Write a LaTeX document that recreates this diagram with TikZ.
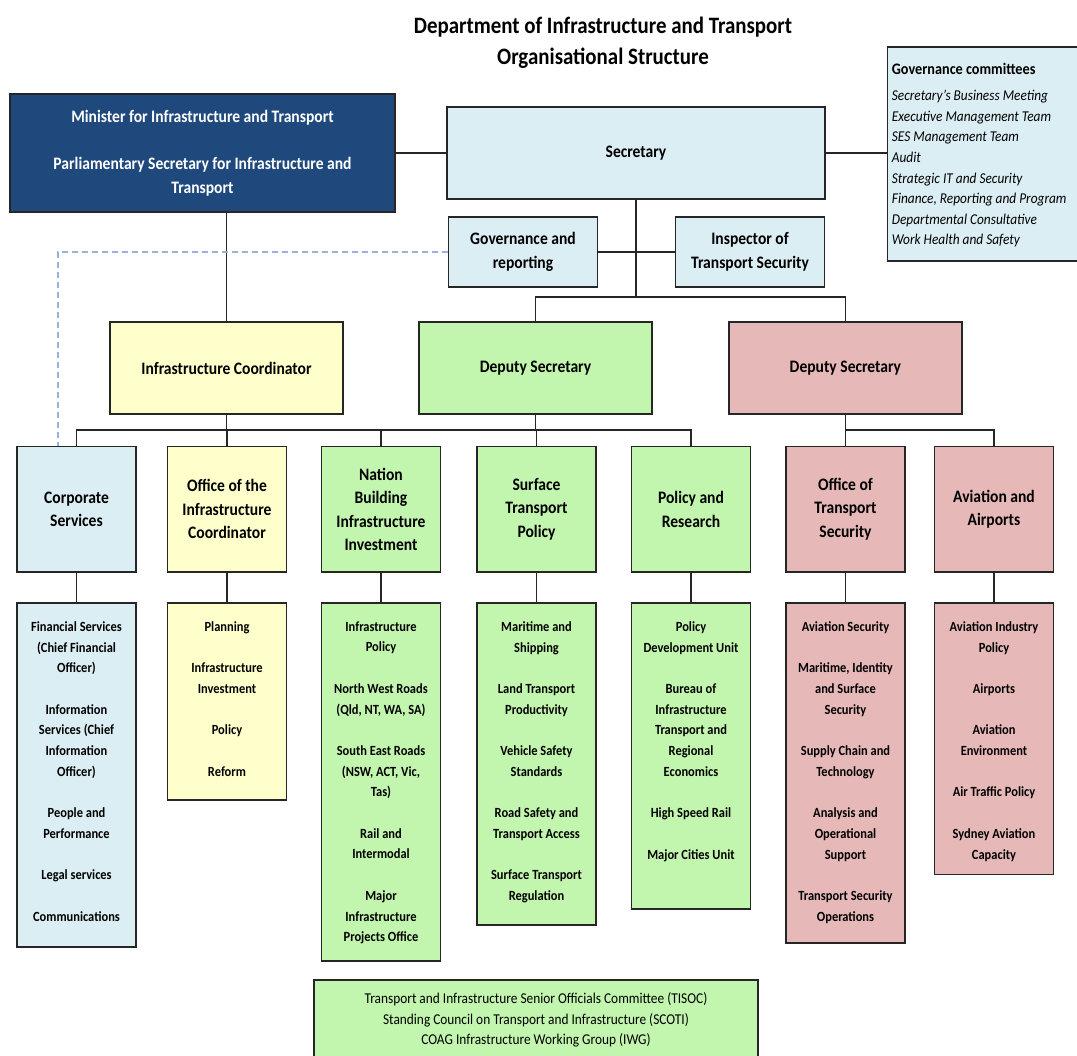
\documentclass[tikz,border=0pt]{standalone}
\usepackage{fontspec}
\setmainfont{Carlito}[FakeStretch=0.89]
\usetikzlibrary{positioning}

\definecolor{deptnavy}{RGB}{31,73,125}
\definecolor{paleblue}{RGB}{219,238,244}
\definecolor{paleyellow}{RGB}{255,255,204}
\definecolor{palegreen}{RGB}{194,245,174}
\definecolor{palered}{RGB}{230,184,183}
\definecolor{dashblue}{RGB}{149,179,215}
\definecolor{edgegrey}{RGB}{38,38,38}

\tikzset{
  box/.style={draw=edgegrey, line width=1.6pt, inner sep=0pt, align=center,
    font=\fontsize{17.5}{23.5}\selectfont\bfseries},
  unitbox/.style={box, minimum width=119pt, minimum height=125pt},
  headbox/.style={box, minimum width=233pt, minimum height=92pt},
  listbox/.style={draw=edgegrey, line width=1.6pt, minimum width=119pt, anchor=north},
  listtxt/.style={inner sep=0pt, align=center, font=\fontsize{14}{20.7}\selectfont\bfseries},
  link/.style={draw=edgegrey, line width=1.6pt},
  dashlink/.style={draw=dashblue, line width=1.6pt, dash pattern=on 6pt off 4pt}
}

\begin{document}
\begin{tikzpicture}[x=1pt,y=-1pt]
  \useasboundingbox (0,0) rectangle (1077,1056);
  \clip (0,0) rectangle (1077,1056);

  \node[inner sep=0pt, align=center, font=\fontsize{23.5}{31}\selectfont\bfseries] (title) at (603,42.5)
    {Department of Infrastructure and Transport\\Organisational Structure};

  % top level
  \node[box, fill=deptnavy, text=white, minimum width=385pt, minimum height=118pt] (minister) at (202.5,153)
    {Minister for Infrastructure and Transport\\[23.5pt]Parliamentary Secretary for Infrastructure and\\Transport};
  \node[box, fill=paleblue, minimum width=378pt, minimum height=92pt] (secretary) at (636,153) {Secretary};
  \node[box, fill=paleblue, minimum width=190pt, minimum height=214pt] (govcomm) at (982.5,154) {};
  \node[inner sep=0pt, anchor=north west, align=left, font=\fontsize{15}{20.6}\selectfont\itshape]
    (govlist) at ([xshift=5pt,yshift=-17pt]govcomm.north west)
    {{\upshape\bfseries\fontsize{16}{20.6}\selectfont Governance committees}\\[5.4pt]
     Secretary's Business Meeting\\Executive Management Team\\SES Management Team\\Audit\\
     Strategic IT and Security\\Finance, Reporting and Program\\Departmental Consultative\\Work Health and Safety};
  \node[box, fill=paleblue, minimum width=149pt, minimum height=70pt] (govrep) at (523,252) {Governance and\\reporting};
  \node[box, fill=paleblue, minimum width=149pt, minimum height=70pt] (insp) at (750,252) {Inspector of\\Transport Security};

  % deputies
  \node[headbox, fill=paleyellow] (infcoord) at (226.5,368) {Infrastructure Coordinator};
  \node[headbox, fill=palegreen] (depgreen) at (535.5,368) {Deputy Secretary};
  \node[headbox, fill=palered] (depred) at (845.4,368) {Deputy Secretary};

  % divisions
  \node[unitbox, fill=paleblue] (corp) at (76.5,509.2) {Corporate\\Services};
  \node[unitbox, fill=paleyellow] (oic) at (227,509.2) {Office of the\\Infrastructure\\Coordinator};
  \node[unitbox, fill=palegreen] (nbii) at (381,509.2) {Nation\\Building\\Infrastructure\\Investment};
  \node[unitbox, fill=palegreen] (stp) at (536.5,509.2) {Surface\\Transport\\Policy};
  \node[unitbox, fill=palegreen] (polres) at (691,509.2) {Policy and\\Research};
  \node[unitbox, fill=palered] (ots) at (845.5,509.2) {Office of\\Transport\\Security};
  \node[unitbox, fill=palered] (avi) at (994,509.2) {Aviation and\\Airports};

  % branch lists
  \node[listbox, fill=paleblue, minimum height=343.7pt] (corplist) at (76.5,602.3) {};
  \node[listbox, fill=paleyellow, minimum height=196.7pt] (oiclist) at (227,602.3) {};
  \node[listbox, fill=palegreen, minimum height=357.7pt] (nbiilist) at (381,602.3) {};
  \node[listbox, fill=palegreen, minimum height=322pt] (stplist) at (536.5,602.3) {};
  \node[listbox, fill=palegreen, minimum height=306pt] (polreslist) at (691,602.3) {};
  \node[listbox, fill=palered, minimum height=340pt] (otslist) at (845.5,602.3) {};
  \node[listbox, fill=palered, minimum height=271.4pt] (avilist) at (994,602.3) {};

  \node[listtxt, below=19pt of corplist.north] (corptxt)
    {Financial Services\\(Chief Financial\\Officer)\\[20.7pt]Information\\Services (Chief\\Information\\Officer)\\[20.7pt]
     People and\\Performance\\[20.7pt]Legal services\\[20.7pt]Communications};
  \node[listtxt, below=19pt of oiclist.north] (oictxt)
    {Planning\\[20.7pt]Infrastructure\\Investment\\[20.7pt]Policy\\[20.7pt]Reform};
  \node[listtxt, below=19pt of nbiilist.north] (nbiitxt)
    {Infrastructure\\Policy\\[20.7pt]North West Roads\\(Qld, NT, WA, SA)\\[20.7pt]South East Roads\\(NSW, ACT, Vic,\\Tas)\\[20.7pt]
     Rail and\\Intermodal\\[20.7pt]Major\\Infrastructure\\Projects Office};
  \node[listtxt, below=19pt of stplist.north] (stptxt)
    {Maritime and\\Shipping\\[20.7pt]Land Transport\\Productivity\\[20.7pt]Vehicle Safety\\Standards\\[20.7pt]
     Road Safety and\\Transport Access\\[20.7pt]Surface Transport\\Regulation};
  \node[listtxt, below=19pt of polreslist.north] (polrestxt)
    {Policy\\Development Unit\\[20.7pt]Bureau of\\Infrastructure\\Transport and\\Regional\\Economics\\[20.7pt]
     High Speed Rail\\[20.7pt]Major Cities Unit};
  \node[listtxt, below=19pt of otslist.north] (otstxt)
    {Aviation Security\\[20.7pt]Maritime, Identity\\and Surface\\Security\\[20.7pt]Supply Chain and\\Technology\\[20.7pt]
     Analysis and\\Operational\\Support\\[20.7pt]Transport Security\\Operations};
  \node[listtxt, below=19pt of avilist.north] (avitxt)
    {Aviation Industry\\Policy\\[20.7pt]Airports\\[20.7pt]Aviation\\Environment\\[20.7pt]Air Traffic Policy\\[20.7pt]
     Sydney Aviation\\Capacity};

  % ministerial councils
  \node[draw=edgegrey, line width=1.6pt, fill=palegreen, minimum width=443.7pt, minimum height=86pt] (councils) at (536,1023) {};
  \node[inner sep=0pt, align=center, font=\fontsize{15}{20.8}\selectfont, below=13pt of councils.north] (counciltxt)
    {Transport and Infrastructure Senior Officials Committee (TISOC)\\
     Standing Council on Transport and Infrastructure (SCOTI)\\COAG Infrastructure Working Group (IWG)};

  % connectors
  \coordinate (topbus) at (0,297);
  \coordinate (bus) at (0,430);
  \draw[link] (minister.east) -- (secretary.west);
  \draw[link] (secretary.east) -- (secretary.east -| govcomm.west);
  \draw[link] (govrep.east) -- (insp.west);
  \draw[link] (secretary.south) -- (secretary.south |- topbus);
  \draw[link] (depgreen.north) |- (depred.north |- topbus) -- (depred.north);
  \draw[link] (infcoord.north) -- (infcoord.north |- minister.south);
  \draw[dashlink] (govrep.west) -| ([xshift=41.5pt]corp.north west);

  \draw[link] (corp.north) |- (polres.north |- bus) -- (polres.north);
  \draw[link] (infcoord.south) -- (infcoord.south |- bus);
  \draw[link] (depgreen.south) -- (depgreen.south |- bus);
  \foreach \u in {oic,nbii,stp}
    \draw[link] (\u.north) -- (\u.north |- bus);
  \draw[link] (depred.south) -- (depred.south |- bus);
  \draw[link] (ots.north) |- (avi.north |- bus) -- (avi.north);

  \foreach \u in {corp,oic,nbii,stp,polres,ots,avi}
    \draw[link] (\u.south) -- (\u list.north);
\end{tikzpicture}
\end{document}
